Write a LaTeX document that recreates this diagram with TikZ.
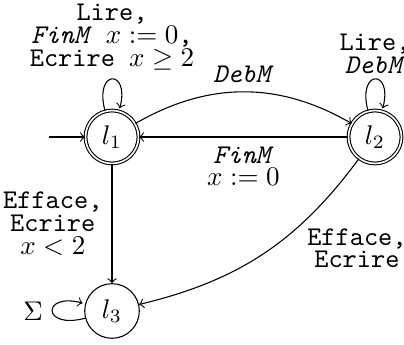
\documentclass[tikz,border=0pt]{standalone}
\usetikzlibrary{arrows,automata}
\begin{document}
\begin{tikzpicture}[x=0.370pt,y=-0.370pt,
  st/.style={circle,draw,minimum size=20.2pt,inner sep=0pt},
  acc/.style={circle,draw,double,double distance=0.6pt,minimum size=19.6pt,inner sep=0pt},
  lab/.style={font={\ttfamily\fontsize{10}{8.4}\selectfont},align=center},
  >=to]
\useasboundingbox (0,0) rectangle (404,345);
\node[acc] (l1) at (112,137) {$l_1$};
\node[acc] (l2) at (375,137) {$l_2$};
\node[st] (l3) at (112,311) {$l_3$};
\coordinate (init) at (49,137);
\draw[->] (init) -- (l1);
\path[->] (l1) edge[loop above] node[above,lab] {Lire,\\\textit{FinM} $x:=0$,\\Ecrire $x\geq 2$} (l1);
\path[->] (l2) edge[loop above] node[above,lab,inner sep=2pt] {Lire,\\\textit{DebM}} (l2);
\path[->] (l3) edge[loop left] node[left] {$\Sigma$} (l3);
\path[->] (l1) edge[bend left=30] node[above,lab] {\textit{DebM}} (l2);
\path[->] (l2) edge node[below,lab] {\textit{FinM}\\$x:=0$} (l1);
\path[->] (l1) edge node[left,lab] {Efface,\\Ecrire\\$x<2$} (l3);
\path[->] (l2) edge[bend left=20] node[pos=0.25,anchor=west,xshift=-5.6pt,yshift=-13pt,lab] {Efface,\\Ecrire} (l3);
\end{tikzpicture}
\end{document}
